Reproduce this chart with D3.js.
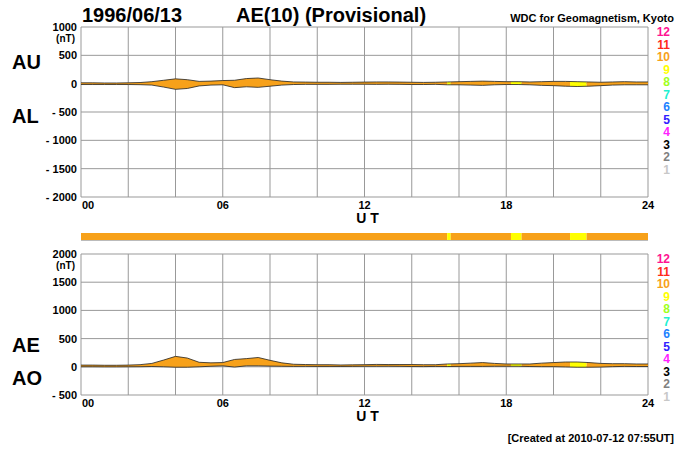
<!DOCTYPE html>
<html><head><meta charset="utf-8">
<script src="https://cdn.jsdelivr.net/npm/d3@7"></script>
<style>body{margin:0;background:#fff}text{font-family:"Liberation Sans",Arial,sans-serif}</style>
</head><body><svg id="c" width="700" height="450"></svg>
<script>
// half-hour values, 00:00 .. 24:00
var hours = d3.range(0, 24.01, 0.5);
var au = [15,15,12,12,15,20,35,60,85,70,40,45,55,60,90,100,70,45,30,
          28,25,25,22,25,28,30,30,28,25,22,25,30,35,40,45,40,35,35,30,35,40,40,35,30,25,30,35,30,30];
var al = [-15,-15,-15,-15,-15,-18,-25,-60,-100,-85,-40,-25,-20,-70,-55,-65,-45,-25,-15,
          -12,-12,-12,-10,-10,-10,-12,-10,-12,-15,-15,-12,-20,-20,-25,-30,-20,-15,-15,-20,-30,-35,-45,-50,-45,-35,-25,-20,-20,-20];
// station count intervals [start hour, end hour, stations]
var stations = [[0,15.5,10],[15.5,15.65,9],[15.65,18.2,10],[18.2,18.65,9],[18.65,20.7,10],[20.7,21.4,9],[21.4,24,10]];
var countColors = {12:"#ff1493",11:"#ff2a1a",10:"#f7a11a",9:"#ffff00",8:"#a0ff20",7:"#20f0d0",6:"#1a80ff",5:"#3020ff",4:"#ff20ff",3:"#000000",2:"#808080",1:"#c8c8c8"};
var xTicks = ["00","06","12","18","24"];

var svg = d3.select("#c");
var x = d3.scaleLinear().domain([0,24]).range([81,648]);
var ae = au.map(function(v,i){return v - al[i];});
var ao = au.map(function(v,i){return (v + al[i]) / 2;});

svg.append("text").attr("x",82).attr("y",22).attr("font-size",20).attr("font-weight","bold").text("1996/06/13");
svg.append("text").attr("x",236).attr("y",22).attr("font-size",20).attr("font-weight","bold").text("AE(10) (Provisional)");
svg.append("text").attr("x",674).attr("y",22).attr("font-size",11).attr("font-weight","bold").attr("text-anchor","end").text("WDC for Geomagnetism, Kyoto");
svg.append("text").attr("x",674).attr("y",442).attr("font-size",11).attr("font-weight","bold").attr("text-anchor","end").text("[Created at 2010-07-12 07:55UT]");

function panel(y, hi, lo, ticks, labels) {
  var g = svg.append("g");
  g.selectAll(".vg").data(d3.range(0,25,2)).enter().append("line")
    .attr("x1",x).attr("x2",x).attr("y1",y.range()[1]).attr("y2",y.range()[0]).attr("stroke","#999");
  g.selectAll(".hg").data(ticks).enter().append("line")
    .attr("x1",81).attr("x2",648).attr("y1",y).attr("y2",y).attr("stroke","#999");
  g.selectAll(".yt").data(ticks).enter().append("text")
    .attr("x",77).attr("y",function(d){return y(d)+4;}).attr("text-anchor","end")
    .attr("font-size",11).attr("font-weight","bold")
    .text(function(d){return d < 0 ? "- " + (-d) : d;});
  g.append("text").attr("x",75).attr("y",y(ticks[ticks.length-1])+15).attr("text-anchor","end")
    .attr("font-size",10).attr("font-weight","bold").text("(nT)");
  g.selectAll(".xt").data(xTicks).enter().append("text")
    .attr("x",function(d,i){return x(i*6) + (i==0?7:0);}).attr("y",y.range()[0]+12)
    .attr("text-anchor","middle").attr("font-size",11).attr("font-weight","bold").text(function(d){return d;});
  g.append("text").attr("x",x(12)+3).attr("y",y.range()[0]+26).attr("text-anchor","middle")
    .attr("font-size",14).attr("font-weight","bold").text("U T");
  labels.forEach(function(l){
    g.append("text").attr("x",12).attr("y",y(l[1])+8).attr("font-size",20).attr("font-weight","bold").text(l[0]);
  });
  stations.forEach(function(s){
    var area = d3.area().x(function(i){return x(hours[i]);})
      .y0(function(i){return y(lo[i]);}).y1(function(i){return y(hi[i]);})
      .defined(function(i){return hours[i] >= s[0]-0.5 && hours[i] <= s[1]+0.5;});
    var clipId = "c" + Math.random().toString(36).slice(2);
    g.append("clipPath").attr("id",clipId).append("rect")
      .attr("x",x(s[0])).attr("width",x(s[1])-x(s[0])).attr("y",0).attr("height",450);
    g.append("path").attr("d",area(d3.range(hours.length))).attr("fill",countColors[s[2]]).attr("clip-path","url(#"+clipId+")");
  });
  var line = d3.line().x(function(d,i){return x(hours[i]);}).y(function(d){return y(d);});
  g.append("path").attr("d",line(hi)).attr("fill","none").attr("stroke","#222").attr("stroke-width",0.8);
  g.append("path").attr("d",line(lo)).attr("fill","none").attr("stroke","#222").attr("stroke-width",0.8);
  var counts = d3.range(12,0,-1);
  g.selectAll(".cn").data(counts).enter().append("text")
    .attr("x",670).attr("y",function(d,i){return y.range()[1]+9+i*12.5;}).attr("text-anchor","end")
    .attr("font-size",12).attr("font-weight","bold").attr("fill",function(d){return countColors[d];}).text(function(d){return d;});
}

var y1 = d3.scaleLinear().domain([-2000,1000]).range([197,27]);
panel(y1, au, al, [-2000,-1500,-1000,-500,0,500,1000], [["AU",400],["AL",-550]]);
var y2 = d3.scaleLinear().domain([-500,2000]).range([395,254]);
panel(y2, ae, ao, [-500,0,500,1000,1500,2000], [["AE",400],["AO",-180]]);

// station count bar
svg.selectAll(".sb").data(stations).enter().append("rect")
  .attr("x",function(d){return x(d[0]);}).attr("width",function(d){return x(d[1])-x(d[0]);})
  .attr("y",233).attr("height",7).attr("fill",function(d){return countColors[d[2]];});
svg.append("line").attr("x1",81).attr("x2",648).attr("y1",240.5).attr("y2",240.5).attr("stroke","#bbb");
</script></body></html>
